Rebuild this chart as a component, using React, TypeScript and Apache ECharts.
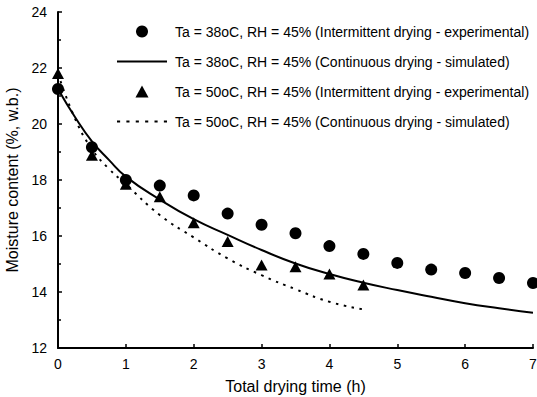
import React, { useEffect, useRef } from "react";
import * as echarts from "echarts";

const legendNames = [
  "Ta = 38oC, RH = 45% (Intermittent drying - experimental)",
  "Ta = 38oC, RH = 45% (Continuous drying - simulated)",
  "Ta = 50oC, RH = 45% (Intermittent drying - experimental)",
  "Ta = 50oC, RH = 45% (Continuous drying - simulated)",
];

const expTimes = [0, 0.5, 1, 1.5, 2, 2.5, 3, 3.5, 4, 4.5, 5, 5.5, 6, 6.5, 7];
const exp38 = [21.25, 19.17, 18.0, 17.8, 17.45, 16.8, 16.4, 16.1, 15.64, 15.36, 15.04, 14.8, 14.68, 14.5, 14.32];

const exp50Times = [0, 0.5, 1, 1.5, 2, 2.5, 3, 3.5, 4, 4.5];
const exp50 = [21.8, 18.88, 17.85, 17.4, 16.47, 15.8, 14.96, 14.9, 14.64, 14.25];

const sim38Times = [0, 0.25, 0.5, 0.75, 1, 1.5, 2, 2.5, 3, 3.5, 4, 4.5, 5, 5.5, 6, 6.5, 7];
const sim38 = [21.25, 20.25, 19.38, 18.72, 18.12, 17.3, 16.6, 16.04, 15.5, 15.02, 14.64, 14.33, 14.07, 13.83, 13.6, 13.42, 13.26];

const sim50Times = [0, 0.25, 0.5, 0.75, 1, 1.5, 2, 2.5, 3, 3.5, 4, 4.5];
const sim50 = [21.8, 20.2, 19.1, 18.4, 17.85, 16.75, 15.95, 15.2, 14.6, 14.1, 13.65, 13.38];

const xTicks = [0, 7, 1];
const yTicks = [12, 24, 2];

const pairs = (xs: number[], ys: number[]) => xs.map((x, i) => [x, ys[i]]);

const triIcon = "path://M6,0L12,11L0,11Z";
const solidIcon = "path://M0,0H50V2H0Z";
const dotIcon =
  "path://M0,0H3V2H0Z M9,0H12V2H9Z M18,0H21V2H18Z M27,0H30V2H27Z M36,0H39V2H36Z M45,0H48V2H45Z";

export default function App() {
  const ref = useRef<HTMLDivElement>(null);
  useEffect(() => {
    const chart = echarts.init(ref.current!, undefined, { renderer: "svg" });
    const font = "'Liberation Sans', Arial, sans-serif";
    chart.setOption({
      animation: false,
      backgroundColor: "#fff",
      textStyle: { fontFamily: font, color: "#000" },
      grid: { left: 58, right: 4, top: 12, bottom: 49, outerBoundsMode: "none", containLabel: false },
      legend: {
        left: 112,
        top: 19,
        orient: "vertical",
        itemWidth: 50,
        itemHeight: 12,
        itemGap: 15,
        symbolKeepAspect: true,
        textStyle: { fontFamily: font, fontSize: 14, color: "#000", lineHeight: 15, padding: [0, 0, 0, 3] },
        data: [
          { name: legendNames[0], icon: "circle" },
          { name: legendNames[1], icon: solidIcon },
          { name: legendNames[2], icon: triIcon },
          { name: legendNames[3], icon: dotIcon },
        ],
      },
      xAxis: {
        type: "value",
        min: xTicks[0],
        max: xTicks[1],
        interval: xTicks[2],
        name: "Total drying time (h)",
        nameLocation: "middle",
        nameGap: 30,
        nameTextStyle: { fontSize: 16, color: "#000", fontFamily: font },
        axisLine: { lineStyle: { color: "#000", width: 2 } },
        axisTick: { inside: true, length: 4, lineStyle: { color: "#000", width: 1.5 } },
        axisLabel: { fontSize: 14, color: "#000", margin: 9, fontFamily: font },
        splitLine: { show: false },
      },
      yAxis: {
        type: "value",
        min: yTicks[0],
        max: yTicks[1],
        interval: yTicks[2],
        name: "Moisture content (%, w.b.)",
        nameLocation: "middle",
        nameGap: 36,
        nameTextStyle: { fontSize: 16, color: "#000", fontFamily: font },
        axisLine: { lineStyle: { color: "#000", width: 2 } },
        axisTick: { inside: true, length: 4, lineStyle: { color: "#000", width: 1.5 } },
        minorTick: { show: true, splitNumber: 2, length: 3, lineStyle: { color: "#000", width: 1.5 } },
        axisLabel: { fontSize: 14, color: "#000", margin: 11, fontFamily: font },
        splitLine: { show: false },
      },
      series: [
        {
          name: legendNames[0],
          type: "scatter",
          symbol: "circle",
          symbolSize: 12,
          itemStyle: { color: "#000", opacity: 1 },
          data: pairs(expTimes, exp38),
          z: 3,
        },
        {
          name: legendNames[1],
          type: "line",
          smooth: true,
          symbol: "none",
          lineStyle: { color: "#000", width: 2, type: "solid" },
          itemStyle: { color: "#000" },
          data: pairs(sim38Times, sim38),
        },
        {
          name: legendNames[2],
          type: "scatter",
          symbol: "triangle",
          symbolSize: [12, 11],
          itemStyle: { color: "#000", opacity: 1 },
          data: pairs(exp50Times, exp50),
          z: 3,
        },
        {
          name: legendNames[3],
          type: "line",
          smooth: true,
          symbol: "none",
          lineStyle: { color: "#000", width: 2, type: [2.5, 5.5] },
          itemStyle: { color: "#000" },
          data: pairs(sim50Times, sim50),
        },
      ],
    });
    return () => chart.dispose();
  }, []);
  return (
    <div
      ref={ref}
      style={{ position: "fixed", left: 0, top: 0, width: 537, height: 397, background: "#fff" }}
    />
  );
}
